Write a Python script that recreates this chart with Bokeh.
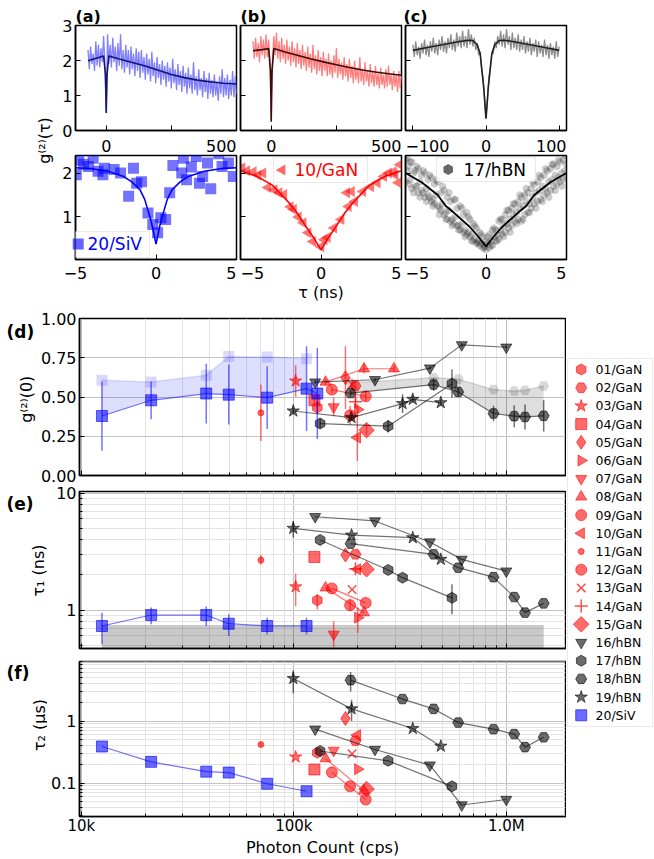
import numpy as np
from bokeh.plotting import figure
from bokeh.models import (Range1d, FixedTicker, Label, BoxAnnotation,
                          PrintfTickFormatter, CustomJSTickFormatter)
from bokeh.layouts import row, column
from bokeh.embed import file_html
from bokeh.resources import INLINE
from bokeh.core.properties import value

FONT = "DejaVu Sans"

# =====================================================================
# DATA
# =====================================================================
# (a)-(c) upper row: g2(tau) over long delays (tau in ns), binned
a_tau_first, a_tau_bin = -70, 5
a_g2 = [2.30, 1.75, 2.40, 1.90, 2.20, 1.70, 2.55, 1.85, 2.45, 1.80,
        2.35, 1.95, 2.70, 1.85, 0.55, 2.75, 1.90, 2.45, 1.80, 2.65,
        1.95, 2.40, 1.70, 2.50, 1.85, 2.75, 1.75, 2.30, 1.65, 2.45,
        1.80, 2.30, 1.60, 2.40, 1.75, 2.20, 1.55, 2.35, 1.70, 2.25,
        1.50, 2.30, 1.65, 2.10, 1.45, 2.20, 1.60, 2.05, 1.40, 2.25,
        1.55, 1.95, 1.35, 2.10, 1.50, 1.90, 1.30, 2.00, 1.45, 1.85,
        1.25, 1.95, 1.40, 1.80, 1.20, 2.05, 1.35, 1.75, 1.15, 1.90,
        1.30, 1.70, 1.10, 1.85, 1.25, 1.65, 1.05, 1.80, 1.20, 1.60,
        1.05, 1.95, 1.15, 1.55, 1.00, 1.75, 1.15, 1.50, 0.95, 1.70,
        1.10, 1.50, 0.90, 1.65, 1.05, 1.45, 0.95, 1.60, 1.00, 1.40,
        0.85, 1.55, 1.05, 1.75, 0.95, 1.50, 1.00, 1.60, 0.90, 1.45,
        1.00, 1.70, 0.95, 1.55, 1.05]
a_fit_tau = [-70, -35, -10, -3, -1, 0, 1, 3, 10, 50, 100, 150, 200, 250, 300, 350, 400, 450, 500]
a_fit_g2 = [1.99, 2.07, 2.13, 1.6, 0.9, 0.5, 0.9, 1.6, 2.13, 2.04, 1.94, 1.84, 1.72, 1.60, 1.51, 1.44, 1.39, 1.35, 1.33]

b_tau_first, b_tau_bin = -70, 5
b_g2 = [2.55, 2.05, 2.65, 2.10, 2.50, 1.95, 2.70, 2.15, 2.60, 2.05,
        2.75, 2.10, 2.60, 2.00, 0.30, 2.05, 2.70, 2.15, 2.80, 2.05,
        2.55, 1.95, 2.65, 2.05, 2.45, 1.90, 2.60, 2.00, 2.40, 1.85,
        2.55, 1.95, 2.35, 1.80, 2.50, 1.90, 2.30, 1.75, 2.45, 1.85,
        2.25, 1.70, 2.40, 1.80, 2.20, 1.65, 2.45, 1.75, 2.15, 1.60,
        2.30, 1.70, 2.10, 1.55, 2.25, 1.70, 2.05, 1.55, 2.20, 1.60,
        2.00, 1.50, 2.15, 1.65, 2.35, 1.50, 2.05, 1.60, 1.95, 1.45,
        2.10, 1.55, 1.90, 1.40, 2.05, 1.50, 1.85, 1.35, 2.00, 1.45,
        1.80, 1.35, 2.10, 1.40, 1.75, 1.30, 1.95, 1.40, 1.70, 1.25,
        1.90, 1.35, 1.70, 1.25, 1.85, 1.30, 1.65, 1.20, 1.80, 1.30,
        1.60, 1.20, 1.75, 1.25, 1.85, 1.30, 1.60, 1.15, 1.70, 1.25,
        1.60, 1.10, 1.70, 1.20, 1.55]
b_fit_tau = [-70, -35, -10, -3, -1, 0, 1, 3, 10, 50, 100, 150, 200, 250, 300, 350, 400, 450, 500]
b_fit_g2 = [2.28, 2.31, 2.34, 1.7, 0.9, 0.25, 0.9, 1.7, 2.34, 2.25, 2.15, 2.05, 1.96, 1.88, 1.80, 1.73, 1.67, 1.62, 1.58]

c_tau_first, c_tau_bin = -100, 2
c_g2 = [2.45, 2.10, 2.55, 2.15, 2.40, 2.05, 2.50, 2.20, 2.60, 2.15,
        2.45, 2.10, 2.55, 2.25, 2.65, 2.20, 2.50, 2.15, 2.60, 2.30,
        2.70, 2.25, 2.55, 2.20, 2.65, 2.35, 2.75, 2.30, 2.60, 2.25,
        2.80, 2.40, 2.70, 2.35, 2.85, 2.40, 2.70, 2.35, 2.90, 2.45,
        2.75, 2.40, 2.65, 2.30, 2.50, 2.15, 2.25, 1.75, 1.50, 0.95,
        0.40, 0.90, 1.55, 1.80, 2.20, 2.20, 2.55, 2.35, 2.70, 2.45,
        2.85, 2.40, 2.75, 2.35, 2.90, 2.45, 2.70, 2.30, 2.80, 2.35,
        2.65, 2.30, 2.75, 2.25, 2.60, 2.30, 2.70, 2.20, 2.55, 2.25,
        2.65, 2.15, 2.50, 2.25, 2.60, 2.10, 2.55, 2.20, 2.45, 2.10,
        2.60, 2.15, 2.45, 2.05, 2.50, 2.15, 2.40, 2.05, 2.55, 2.10,
        2.40]
c_fit_tau = [-100, -80, -60, -40, -25, -18, -12, -8, -5, -3, -2, -1, 0,
             1, 2, 3, 5, 8, 12, 18, 25, 40, 60, 80, 100]
c_fit_g2 = [2.29, 2.37, 2.45, 2.53, 2.58, 2.57, 2.45, 2.2, 1.6, 1.2, 0.9, 0.6, 0.34,
            0.6, 0.9, 1.2, 1.6, 2.2, 2.45, 2.57, 2.58, 2.53, 2.45, 2.37, 2.29]
top_tick_a = [0, 250, 500]
top_tick_c = [-100, 0, 100]

# lower row: short delays (tau in ns)
siv_tau = [-4.95, -4.8, -4.5, -4.2, -3.9, -3.6, -3.3, -3.2, -2.6, -2.2, -1.7, -1.4, -1.2, -0.9,
           -0.5, -0.2, 0.1, 0.3, 0.6, 0.85, 1.05, 1.6, 1.7, 1.9, 2.2, 2.5, 2.7, 2.9, 3.2, 3.4,
           3.9, 4.1, 4.5, 4.8]
siv_g2s = [1.96, 2.29, 2.2, 2.15, 2.34, 2.04, 1.96, 2.11, 2.08, 2.0, 1.47, 2.11, 1.77, 1.8,
           1.09, 0.83, 0.64, 0.98, 0.94, 1.55, 2.17, 2.0, 2.34, 1.85, 2.14, 2.38, 1.77, 1.92,
           2.23, 1.64, 2.44, 2.15, 2.23, 1.92]
siv_fit_tau = [-5, -4, -3, -2, -1.5, -1, -0.7, -0.5, -0.3, -0.15, 0, 0.15, 0.3, 0.5, 0.7, 1, 1.5, 2, 3, 4, 5]
siv_fit_g2 = [2.12, 2.10, 2.04, 1.92, 1.80, 1.62, 1.40, 1.15, 0.90, 0.65, 0.38, 0.65, 0.90, 1.15,
              1.40, 1.62, 1.80, 1.92, 2.04, 2.10, 2.12]

gan_tau = [-4.9, -4.2, -3.6, -3.3, -2.9, -2.3, -1.9, -1.7, -1.1, -0.8, -0.5, 0.0, 0.2, 0.4, 0.8,
           1.25, 1.7, 2.1, 1.6, 1.9, 2.6, 3.1, 3.5, 3.9, 4.2, 4.5, 4.8, 4.9, 4.6,
           -4.6, -3.9, -2.6, -1.4]
gan_g2s = [2.12, 2.03, 2.0, 1.67, 1.62, 1.51, 1.23, 1.17, 0.87, 0.64, 0.44, 0.32, 0.48, 0.53, 0.75,
           0.94, 1.24, 1.35, 1.55, 1.58, 1.58, 1.69, 1.78, 1.92, 2.0, 2.03, 1.78, 2.19, 1.96,
           2.05, 1.95, 1.55, 1.0]
gan_fit_tau = [-5, -4, -3, -2, -1.5, -1, -0.5, 0, 0.5, 1, 1.5, 2, 3, 4, 5]
gan_fit_g2 = [2.05, 1.93, 1.72, 1.33, 1.10, 0.82, 0.55, 0.25, 0.55, 0.82, 1.10, 1.33, 1.72, 1.93, 2.05]

hbn_tau_first, hbn_tau_bin = -5.0, 0.2
hbn_g2_a = [2.30, 2.15, 2.25, 2.05, 2.10, 1.95, 2.00, 1.85, 1.90, 1.75, 1.80, 1.55, 1.60, 1.45,
            1.35, 1.40, 1.20, 1.25, 1.05, 1.10, 0.95, 0.85, 0.75, 0.65, 0.55, 0.45, 0.60, 0.70,
            0.70, 0.90, 0.95, 1.05, 1.15, 1.20, 1.30, 1.35, 1.45, 1.50, 1.55, 1.65, 1.75, 1.80,
            1.90, 1.95, 2.05, 2.10, 2.20, 2.15, 2.25, 2.30, 2.20]
hbn_g2_b = [1.80, 1.75, 1.65, 1.70, 1.55, 1.60, 1.45, 1.50, 1.35, 1.30, 1.25, 1.15, 1.05, 0.95,
            0.90, 0.85, 0.80, 0.70, 0.65, 0.60, 0.55, 0.45, 0.40, 0.35, 0.30, 0.25, 0.30, 0.35,
            0.45, 0.50, 0.60, 0.65, 0.75, 0.80, 0.90, 0.95, 0.90, 1.05, 1.10, 1.20, 1.30, 1.35,
            1.40, 1.50, 1.55, 1.60, 1.70, 1.75, 1.80, 1.85, 1.90]
hbn_mid_first = -4.9
hbn_g2_c = [2.05, 1.85, 2.00, 1.70, 1.80, 1.55, 1.65, 1.45, 1.40, 1.50, 1.20, 1.30, 1.10, 1.15,
            0.95, 1.00, 0.80, 0.85, 0.70, 0.65, 0.60, 0.50, 0.45, 0.40, 0.35, 0.40, 0.45, 0.55,
            0.60, 0.70, 0.80, 0.85, 0.95, 1.05, 1.10, 1.20, 1.25, 1.35, 1.30, 1.45, 1.55, 1.60,
            1.70, 1.65, 1.80, 1.85, 1.95, 1.90, 2.00, 2.05]
hbn_g2_d = [2.35, 2.25, 1.55, 2.15, 1.45, 2.05, 1.35, 1.95, 1.25, 1.85, 1.05, 1.70, 0.95, 1.55,
            0.80, 1.40, 0.70, 1.20, 0.55, 1.00, 0.45, 0.80, 0.40, 0.60, 0.30, 0.55, 0.35, 0.75,
            0.45, 0.95, 0.55, 1.15, 0.65, 1.30, 0.85, 1.50, 0.95, 1.65, 1.10, 1.80, 1.20, 1.95,
            1.35, 2.10, 1.45, 2.20, 1.60, 2.30, 1.70, 2.40]
hbn_fit_tau = [-5, -4, -3, -2.5, -2, -1, -0.5, 0, 0.5, 1, 2, 2.5, 3, 4, 5]
hbn_fit_g2 = [2.0, 1.79, 1.5, 1.25, 1.1, 0.77, 0.56, 0.33, 0.56, 0.77, 1.1, 1.25, 1.5, 1.79, 2.0]

# (d)-(f): photon count (cps) vs g2(0), tau1 (ns), tau2 (us)
s01_x = [129e3];  s01_g2 = [0.433]; s01_g2e = [0.04]; s01_t1 = [1.21]; s01_t2 = [0.309]
s02_x = [195e3];  s02_g2 = [0.57];  s02_g2e = [0.03]; s02_t1 = [2.99]; s02_t2 = [0.483]
s03_x = [102e3];  s03_g2 = [0.602]; s03_g2e = [0.10]; s03_t1 = [1.58]; s03_t2 = [0.264]
s04_x = [125e3];  s04_g2 = [0.479]; s04_g2e = [0.03]; s04_t1 = [2.84]; s04_t2 = [0.166]
s05_x = [175e3];  s05_g2 = [0.623]; s05_g2e = [0.20]; s05_t1 = [2.95]; s05_t2 = [1.10]
s06_x = [200e3];  s06_g2 = [0.42];  s06_g2e = [0.03]; s06_t1 = [0.86]; s06_t2 = [0.168]
s07_x = [154e3];  s07_g2 = [0.437]; s07_g2e = [0.06]; s07_t1 = [0.62]; s07_t2 = [0.336]
s08_x = [141e3, 214e3, 296e3]; s08_g2 = [0.595, 0.68, 0.68]; s08_g2e = [0.02, 0.03, 0.02]
s08_t1 = [1.55, 0.95, None]; s08_t2 = [0.248, 0.0757, None]
s09_x = [151e3, 218e3]; s09_g2 = [0.547, 0.504]; s09_g2e = [0.02, 0.03]
s09_t1 = [1.53, 1.15]; s09_t2 = [0.149, 0.0545]
s10_x = [199e3];  s10_g2 = [0.242]; s10_g2e = [0.15]; s10_t1 = [2.23]; s10_t2 = [0.594]
s11_x = [70e3];   s11_g2 = [0.399]; s11_g2e = [0.18]; s11_t1 = [2.67]; s11_t2 = [0.418]
s12_x = [184e3];  s12_g2 = [0.384]; s12_g2e = [0.06]; s12_t1 = [1.10]; s12_t2 = [0.0887]
s13_x = [188e3];  s13_g2 = [0.58];  s13_g2e = [0.03]; s13_t1 = [1.50]; s13_t2 = [0.298]
s14_x = [195e3];  s14_g2 = [0.47];  s14_g2e = [0.04]; s14_t1 = [2.25]; s14_t2 = [None]
s15_x = [220e3];  s15_g2 = [0.289]; s15_g2e = [0.03]; s15_t1 = [2.23]; s15_t2 = [0.0804]
s16_x = [126e3, 241e3, 437e3, 617e3, 1.0e6]
s16_g2 = [0.595, 0.61, 0.684, 0.832, 0.817]; s16_g2e = [0.01, 0.01, 0.01, 0.01, 0.01]
s16_t1 = [6.27, 5.77, 3.81, 2.71, 2.15]; s16_t2 = [0.74, 0.348, 0.195, 0.0444, 0.0545]
s17_x = [133e3, 278e3, 325e3, 555e3]
s17_g2 = [0.331, 0.314, None, 0.585]; s17_g2e = [0.03, 0.04, None, 0.09]
s17_t1 = [3.97, 2.20, 1.89, 1.27]; s17_t2 = [0.329, 0.229, None, 0.0887]
s18_x = [185e3, 325e3, 455e3, 594e3, 871e3, 1.09e6, 1.225e6, 1.5e6]
s18_g2 = [0.525, None, 0.579, 0.532, 0.395, 0.378, 0.373, 0.380]
s18_g2e = [0.02, None, 0.04, 0.03, 0.05, 0.07, 0.08, 0.10]
s18_g2_hi = [0.59, None, 0.623, 0.614, 0.547, 0.538, 0.543, 0.570]
s18_t1 = [3.69, None, 2.99, 2.30, 1.91, 1.29, 0.95, 1.14]
s18_t2 = [4.56, 2.26, 1.57, 0.944, 0.74, 0.617, 0.38, 0.547]
s19_x = [99.4e3, 187e3, 325e3, 363e3, 492e3]
s19_g2 = [0.411, 0.369, 0.458, 0.485, 0.464]; s19_g2e = [0.02, 0.02, 0.06, 0.02, 0.02]
s19_t1 = [4.99, 4.37, None, 4.15, 2.71]; s19_t2 = [4.85, 1.57, None, 0.759, 0.394]
s20_x = [12.5e3, 21.3e3, 38.7e3, 49.4e3, 74.9e3, 114.8e3, 129e3]
s20_g2 = [0.379, 0.479, 0.522, 0.515, 0.496, 0.553, 0.522]
s20_g2e = [0.22, 0.12, 0.19, 0.19, 0.20, 0.27, 0.29]
s20_g2_hi = [0.606, 0.595, 0.638, 0.758, 0.754, 0.744, None]
s20_t1 = [0.73, 0.906, 0.906, 0.764, 0.73, 0.73, None]
s20_t2 = [0.389, 0.22, 0.153, 0.148, 0.0977, 0.0739, None]

# visible tau1 / tau2 error bars (low, high)
s01_t1_lo = [1.01]; s01_t1_hi = [1.36]
s03_t1_lo = [1.08]; s03_t1_hi = [2.04]
s06_t1_lo = [0.64]; s06_t1_hi = [1.05]
s07_t1_lo = [0.48]; s07_t1_hi = [0.80]
s11_t1_lo = [2.45]; s11_t1_hi = [2.95]
s12_t1_lo = [0.98]; s12_t1_hi = [1.25]
s17_t1_lo = [None, None, None, 0.92]; s17_t1_hi = [None, None, None, 1.66]
s19_t1_lo = [4.15, None, None, None, None]; s19_t1_hi = [5.77, None, None, None, None]
s20_t1_lo = [0.51, 0.755, 0.73, 0.60, 0.62, 0.62, None]
s20_t1_hi = [0.95, 1.05, 1.07, 0.92, 0.86, 0.86, None]
s18_t2_lo = [2.98, None, None, None, None, None, None, None]
s18_t2_hi = [6.17, None, None, None, None, None, None, None]
s19_t2_lo = [2.8, 1.0, None, None, None]; s19_t2_hi = [6.6, 2.2, None, None, None]
s11_t2_lo = [0.39]; s11_t2_hi = [0.45]

# tau1 instrument-limited floor shown as grey region in (e)
floor_x = [12.5e3, 1.5e6]
floor_tau1 = 0.745

SERIES = [
    ("01/GaN", s01_x, s01_g2, s01_g2e, s01_t1, s01_t2),
    ("02/GaN", s02_x, s02_g2, s02_g2e, s02_t1, s02_t2),
    ("03/GaN", s03_x, s03_g2, s03_g2e, s03_t1, s03_t2),
    ("04/GaN", s04_x, s04_g2, s04_g2e, s04_t1, s04_t2),
    ("05/GaN", s05_x, s05_g2, s05_g2e, s05_t1, s05_t2),
    ("06/GaN", s06_x, s06_g2, s06_g2e, s06_t1, s06_t2),
    ("07/GaN", s07_x, s07_g2, s07_g2e, s07_t1, s07_t2),
    ("08/GaN", s08_x, s08_g2, s08_g2e, s08_t1, s08_t2),
    ("09/GaN", s09_x, s09_g2, s09_g2e, s09_t1, s09_t2),
    ("10/GaN", s10_x, s10_g2, s10_g2e, s10_t1, s10_t2),
    ("11/GaN", s11_x, s11_g2, s11_g2e, s11_t1, s11_t2),
    ("12/GaN", s12_x, s12_g2, s12_g2e, s12_t1, s12_t2),
    ("13/GaN", s13_x, s13_g2, s13_g2e, s13_t1, s13_t2),
    ("14/GaN", s14_x, s14_g2, s14_g2e, s14_t1, s14_t2),
    ("15/GaN", s15_x, s15_g2, s15_g2e, s15_t1, s15_t2),
    ("16/hBN", s16_x, s16_g2, s16_g2e, s16_t1, s16_t2),
    ("17/hBN", s17_x, s17_g2, s17_g2e, s17_t1, s17_t2),
    ("18/hBN", s18_x, s18_g2, s18_g2e, s18_t1, s18_t2),
    ("19/hBN", s19_x, s19_g2, s19_g2e, s19_t1, s19_t2),
    ("20/SiV", s20_x, s20_g2, s20_g2e, s20_t1, s20_t2),
]
T1_ERR = {"01/GaN": (s01_t1_lo, s01_t1_hi), "03/GaN": (s03_t1_lo, s03_t1_hi),
          "06/GaN": (s06_t1_lo, s06_t1_hi), "07/GaN": (s07_t1_lo, s07_t1_hi),
          "11/GaN": (s11_t1_lo, s11_t1_hi), "12/GaN": (s12_t1_lo, s12_t1_hi),
          "17/hBN": (s17_t1_lo, s17_t1_hi), "19/hBN": (s19_t1_lo, s19_t1_hi),
          "20/SiV": (s20_t1_lo, s20_t1_hi)}
T2_ERR = {"18/hBN": (s18_t2_lo, s18_t2_hi), "19/hBN": (s19_t2_lo, s19_t2_hi),
          "11/GaN": (s11_t2_lo, s11_t2_hi)}

# =====================================================================
# STYLE
# =====================================================================
GROUP_COLOR = {"GaN": "#ff0000", "hBN": "#000000", "SiV": "#0000ff"}
MARK = {
    "01/GaN": ("hex", 30, 11), "02/GaN": ("hex", 0, 11), "03/GaN": ("star", 0, 13),
    "04/GaN": ("square", 0, 11), "05/GaN": ("diamond", 0, 14), "06/GaN": ("triangle", -90, 11),
    "07/GaN": ("inverted_triangle", 0, 11), "08/GaN": ("triangle", 0, 11),
    "09/GaN": ("circle", 0, 11), "10/GaN": ("triangle", 90, 11), "11/GaN": ("circle", 0, 6),
    "12/GaN": ("circle", 0, 11), "13/GaN": ("x", 0, 12), "14/GaN": ("cross", 0, 13),
    "15/GaN": ("square", 45, 11), "16/hBN": ("inverted_triangle", 0, 11),
    "17/hBN": ("hex", 30, 11), "18/hBN": ("hex", 0, 11), "19/hBN": ("star", 0, 13),
    "20/SiV": ("square", 0, 11),
}
MK_ALPHA = 0.58

BLANK = CustomJSTickFormatter(code="return '';")


def base_fig(w, h, xr, yr, mb, x_type="linear", y_type="linear", title=None):
    p = figure(width=w, height=h, x_range=Range1d(*xr), y_range=Range1d(*yr),
               x_axis_type=x_type, y_axis_type=y_type, title=title,
               toolbar_location=None, output_backend="svg",
               min_border_left=mb[0], min_border_right=mb[1],
               min_border_top=mb[2], min_border_bottom=mb[3])
    if title is not None:
        p.title.text_font = FONT
        p.title.text_font_size = "16px"
        p.title.text_font_style = "bold"
        p.title.text_color = "black"
        p.title.align = "left"
        p.title.standoff = 0
    p.outline_line_color = "black"
    p.outline_line_width = 1.5
    p.outline_line_alpha = 1.0
    p.background_fill_color = "white"
    p.border_fill_color = "white"
    p.xgrid.visible = False
    p.ygrid.visible = False
    for ax in p.axis:
        ax.axis_line_color = "black"
        ax.axis_line_width = 1.5
        ax.major_tick_in = 5
        ax.major_tick_out = 0
        ax.minor_tick_in = 0
        ax.minor_tick_out = 0
        ax.major_tick_line_color = "black"
        ax.minor_tick_line_color = "black"
        ax.major_label_text_font = FONT
        ax.major_label_text_font_size = "16px"
        ax.major_label_text_color = "black"
        ax.major_label_standoff = 3
        ax.axis_label_text_font = FONT
        ax.axis_label_text_font_size = "16px"
        ax.axis_label_text_font_style = "normal"
        ax.axis_label_text_color = "black"
    return p


def hide_labels(ax):
    ax.formatter = BLANK
    ax.major_label_text_font_size = "1px"
    ax.major_label_standoff = 0


def strip(w, h):
    s = figure(width=w, height=h, x_range=Range1d(0, w), y_range=Range1d(0, h), title=None,
               toolbar_location=None, output_backend="svg", min_border=0,
               x_axis_location=None, y_axis_location=None)
    s.outline_line_color = None
    s.xgrid.visible = False
    s.ygrid.visible = False
    s.background_fill_color = "white"
    s.border_fill_color = "white"
    return s


def put_text(s, x, y, txt, align="left", baseline="middle", size="16px", style="normal",
             angle=None, color="black"):
    kw = dict(text_align=align, text_baseline=baseline, text_font=value(FONT),
              text_font_size=value(size), text_color=color)
    if style != "normal":
        kw["text_font_style"] = style
    if angle is not None:
        kw["angle"] = angle
    s.text(x=[x], y=[y], text=[txt], **kw)


# =====================================================================
# TOP SECTION  (page pixels: rows 0-139, 139-153, 153-265, 265-304)
# =====================================================================
XR_A = (-118, 500)
XR_C = (-110, 110)
YR_TOP = (0, 3)
XR_S = (-5, 5)
YR_S = (0.03, 2.4)
FW, FH2 = 161, 104

A1 = base_fig(180, 139, XR_A, YR_TOP, (17, 2, 25, 9), title="(a)")
B1 = base_fig(165, 139, XR_A, YR_TOP, (2, 2, 25, 9), title="(b)")
C1 = base_fig(175, 139, XR_C, YR_TOP, (2, 12, 25, 9), title="(c)")
C1.title.offset = -2
A2 = base_fig(180, 112, XR_S, YR_S, (17, 2, 2, 6))
B2 = base_fig(165, 112, XR_S, YR_S, (2, 2, 2, 6))
C2 = base_fig(175, 112, XR_S, YR_S, (2, 12, 2, 6))

for p in (A1, B1):
    p.xaxis.ticker = FixedTicker(ticks=top_tick_a)
C1.xaxis.ticker = FixedTicker(ticks=top_tick_c)
for p in (A1, B1, C1):
    p.yaxis.ticker = FixedTicker(ticks=[0, 1, 2, 3])
for p in (A2, B2, C2):
    p.xaxis.ticker = FixedTicker(ticks=[-5, 0, 5])
    p.yaxis.ticker = FixedTicker(ticks=[0, 1, 2])
for p in (A1, B1, C1, A2, B2, C2):
    hide_labels(p.xaxis)
for p in (B1, C1, B2, C2):
    hide_labels(p.yaxis)

a_tau = a_tau_first + a_tau_bin * np.arange(len(a_g2))
b_tau = b_tau_first + b_tau_bin * np.arange(len(b_g2))
c_tau = c_tau_first + c_tau_bin * np.arange(len(c_g2))
A1.line(a_tau, a_g2, line_color="#7f7fff", line_width=1.3)
A1.line(a_fit_tau, a_fit_g2, line_color="#16166e", line_width=1.6)
B1.line(b_tau, b_g2, line_color="#ff7f7f", line_width=1.3)
B1.line(b_fit_tau, b_fit_g2, line_color="#3a0c0c", line_width=1.6)
C1.line(c_tau, c_g2, line_color="#8c8c8c", line_width=1.3)
C1.line(c_fit_tau, c_fit_g2, line_color="#202020", line_width=1.6)

A2.scatter(siv_tau, siv_g2s, marker="square", size=11, fill_color="#0000ff",
           fill_alpha=0.55, line_alpha=0)
A2.line(siv_fit_tau, siv_fit_g2, line_color="#0000ff", line_width=1.6)
B2.scatter(gan_tau, gan_g2s, marker="triangle", angle=np.pi / 2, size=11,
           fill_color="#ff0000", fill_alpha=0.55, line_alpha=0)
B2.line(gan_fit_tau, gan_fit_g2, line_color="#ff0000", line_width=1.6)
hbn_tau_a = hbn_tau_first + hbn_tau_bin * np.arange(len(hbn_g2_a))
hbn_tau_c = hbn_mid_first + hbn_tau_bin * np.arange(len(hbn_g2_c))
for tx, gy in ((hbn_tau_a, hbn_g2_a), (hbn_tau_a, hbn_g2_b), (hbn_tau_c, hbn_g2_c),
               (hbn_tau_c, hbn_g2_d)):
    C2.scatter(tx, gy, marker="hex", angle=np.pi / 6, size=8, fill_color="#000000",
               fill_alpha=0.2, line_alpha=0)
C2.line(hbn_fit_tau, hbn_fit_g2, line_color="#000000", line_width=1.8)


def inplot_legend(p, xr, yr, box, mk, txt, marker, ang, color, text, tcolor):
    X = lambda px: xr[0] + px * (xr[1] - xr[0]) / FW
    Y = lambda py: yr[0] + py * (yr[1] - yr[0]) / FH2
    p.add_layout(BoxAnnotation(left=X(box[0]), right=X(box[1]), bottom=Y(box[2]), top=Y(box[3]),
                               fill_color="white", fill_alpha=0.85, line_color="#b5b5b5",
                               line_width=1))
    p.scatter([X(mk[0])], [Y(mk[1])], marker=marker, angle=ang, size=11, fill_color=color,
              fill_alpha=0.6, line_alpha=0, level="overlay")
    p.add_layout(Label(x=X(txt[0]), y=Y(txt[1]), text=text, text_baseline="middle",
                       text_align="left", text_font=FONT, text_font_size="17px",
                       text_color=tcolor))


inplot_legend(A2, XR_S, YR_S, (-4, 74, 2, 28), (2.7, 15.5), (12, 15.5), "square", 0,
              "#0000ff", "20/SiV", "#0000ff")
inplot_legend(B2, XR_S, YR_S, (33, 127, 77, 102), (41.7, 89.5), (54, 89.5), "triangle",
              np.pi / 2, "#ff0000", "10/GaN", "#ff0000")
inplot_legend(C2, XR_S, YR_S, (31, 130, 78, 102), (42.7, 90), (58, 90), "hex", np.pi / 6,
              "#000000", "17/hBN", "#000000")

# tick-label strips under the two rows of small panels
PANEL_LEFT = [17, 182, 347]          # frame left of each panel inside the 520-px strips


def xpx(i, xr, v):
    return PANEL_LEFT[i] + (v - xr[0]) / (xr[1] - xr[0]) * FW


S1 = strip(520, 14)
for i, xr in enumerate((XR_A, XR_A)):
    put_text(S1, xpx(i, xr, top_tick_a[0]), 7.5, str(top_tick_a[0]), "center")
    put_text(S1, xpx(i, xr, xr[1]), 7.5, str(top_tick_a[-1]), "right")
put_text(S1, xpx(2, XR_C, XR_C[0]), 7.5, "\u2212" + str(abs(top_tick_c[0])), "left")
put_text(S1, xpx(2, XR_C, top_tick_c[1]), 7.5, str(top_tick_c[1]), "center")
put_text(S1, xpx(2, XR_C, XR_C[1]), 7.5, str(top_tick_c[2]), "right")

S2 = strip(520, 39)
for i in range(3):
    put_text(S2, xpx(i, XR_S, -5), 32, "\u22125", "center" if i == 0 else "left")
    put_text(S2, xpx(i, XR_S, 0), 32, "0", "center")
    put_text(S2, xpx(i, XR_S, 5), 32, "5", "right")
put_text(S2, xpx(1, XR_S, 0), 12, "\u03c4 (ns)", "center")

YL = strip(58, 304)
put_text(YL, 44, 164, "g\u207d\u00b2\u207e(\u03c4)", "center", "middle", angle=np.pi / 2)

# =====================================================================
# BOTTOM SECTION  (page pixels 304-859)
# =====================================================================
XR_MAIN = (9.8e3, 1.9e6)
XMAJ = [1e4, 1e5, 1e6]
XMIN = [m * 10.0 ** k for k in (4, 5, 6) for m in range(2, 10) if m * 10.0 ** k < 1.9e6]


def main_fig(w, h, mbl, yr, y_type, mbt, mbb, yt, ymin, yfmt, show_x):
    p = base_fig(w, h, XR_MAIN, yr, (mbl, 1, mbt, mbb), x_type="log", y_type=y_type)
    xt = FixedTicker(ticks=XMAJ, minor_ticks=XMIN)
    p.xaxis.ticker = xt
    p.xgrid.ticker = xt
    yt_ = FixedTicker(ticks=yt, minor_ticks=ymin)
    p.yaxis.ticker = yt_
    p.ygrid.ticker = yt_
    p.xgrid.visible = True
    p.ygrid.visible = True
    p.xgrid.grid_line_color = "#bdbdbd"
    p.xgrid.minor_grid_line_color = "#e3e3e3"
    p.ygrid.grid_line_color = "#c4c4c4"
    p.ygrid.minor_grid_line_color = "#e3e3e3" if ymin else None
    for ax in p.axis:
        ax.minor_tick_in = 3
    p.yaxis.formatter = yfmt
    if show_x:
        p.xaxis.formatter = CustomJSTickFormatter(
            code="return tick >= 1e6 ? (tick/1e6).toFixed(1) + 'M' : (tick/1e3).toFixed(0) + 'k';")
        p.xaxis.axis_label = "Photon Count (cps)"
        p.xaxis.major_label_text_font_size = "15px"
        p.xaxis.major_label_standoff = 0
        p.xaxis.axis_label_standoff = 0
    else:
        hide_labels(p.xaxis)
    return p


D = main_fig(530, 180, 43, (0, 1.0), "linear", 14, 9, [0, 0.25, 0.5, 0.75, 1.0], [],
             PrintfTickFormatter(format="%.2f"), False)
E = main_fig(519, 170, 32, (0.469, 10.3), "log", 7, 6, [1, 10],
             [0.5, 0.6, 0.7, 0.8, 0.9] + list(range(2, 10)),
             PrintfTickFormatter(format="%g"), False)
F = main_fig(519, 205, 32, (0.029, 9.1), "log", 7, 0, [0.1, 1],
             [0.03, 0.04, 0.05, 0.06, 0.07, 0.08, 0.09, 0.2, 0.3, 0.4, 0.5, 0.6, 0.7, 0.8, 0.9]
             + list(range(2, 10)),
             PrintfTickFormatter(format="%g"), True)

LSD = strip(36, 180)
put_text(LSD, 6, 165, "(d)", "left", "middle", size="17px", style="bold")
put_text(LSD, 26, 87.5, "g\u207d\u00b2\u207e(0)", "center", "middle", angle=np.pi / 2)
LSE = strip(47, 170)
put_text(LSE, 6, 156, "(e)", "left", "middle", size="17px", style="bold")
put_text(LSE, 38, 84.5, "\u03c4\u2081 (ns)", "center", "middle", angle=np.pi / 2)
LSF = strip(47, 205)
put_text(LSF, 6, 190, "(f)", "left", "middle", size="17px", style="bold")
put_text(LSF, 39, 121, "\u03c4\u2082 (\u03bcs)", "center", "middle", angle=np.pi / 2)

# bands in (d)
for xs_, lo_, hi_, col, mk, ang in ((s20_x, s20_g2, s20_g2_hi, "#0000ff", "square", 0),
                                    (s18_x, s18_g2, s18_g2_hi, "#000000", "hex", 0)):
    keep = [i for i in range(len(xs_)) if hi_[i] is not None and lo_[i] is not None]
    bx = [xs_[i] for i in keep]
    blo = [lo_[i] for i in keep]
    bhi = [hi_[i] for i in keep]
    D.varea(x=bx, y1=blo, y2=bhi, fill_color=col, fill_alpha=0.13)
    D.line(bx, bhi, line_color=col, line_alpha=0.12, line_width=1.5)
    D.scatter(bx, bhi, marker=mk, angle=np.deg2rad(ang), size=11, fill_color=col,
              fill_alpha=0.15, line_alpha=0)

# floor in (e)
E.varea(x=floor_x, y1=[0.01, 0.01], y2=[floor_tau1, floor_tau1], fill_color="#000000",
        fill_alpha=0.21)


def draw(p, name, x, y, lo, hi):
    grp = name.split("/")[1]
    col = GROUP_COLOR[grp]
    mk, ang, sz = MARK[name]
    keep = [i for i, v in enumerate(y) if v is not None]
    xs = [x[i] for i in keep]
    ys = [y[i] for i in keep]
    if not xs:
        return
    if len(xs) > 1:
        p.line(xs, ys, line_color=col, line_alpha=0.55, line_width=1.2)
    if lo is not None:
        k2 = [i for i in keep if lo[i] is not None]
        if k2:
            ex = [x[i] for i in k2]
            p.segment(ex, [lo[i] for i in k2], ex, [hi[i] for i in k2],
                      line_color=col, line_alpha=0.55, line_width=1.5)
    line_only = mk in ("x", "cross")
    p.scatter(xs, ys, marker=mk, angle=np.deg2rad(ang), size=sz, fill_color=col,
              fill_alpha=0.0 if line_only else MK_ALPHA, line_color=col,
              line_alpha=0.7 if line_only else MK_ALPHA, line_width=1.5 if line_only else 1)


for name, x, g2, g2e, t1, t2 in SERIES:
    lo = [None if (v is None or e is None) else v - e for v, e in zip(g2, g2e)]
    hi = [None if (v is None or e is None) else v + e for v, e in zip(g2, g2e)]
    draw(D, name, x, g2, lo, hi)
    e1 = T1_ERR.get(name, (None, None))
    draw(E, name, x, t1, e1[0], e1[1])
    e2 = T2_ERR.get(name, (None, None))
    draw(F, name, x, t2, e2[0], e2[1])

# legend column
LG = strip(88, 555)
LG.add_layout(BoxAnnotation(left=1, right=86, bottom=133, top=501, fill_color="white",
                            fill_alpha=1.0, line_color="#bbbbbb", line_width=1, level="underlay"))
names = [s[0] for s in SERIES]
rows_y = [490 - 18.2 * i for i in range(len(names))]
for nm, yy in zip(names, rows_y):
    grp = nm.split("/")[1]
    col = GROUP_COLOR[grp]
    mk, ang, sz = MARK[nm]
    line_only = mk in ("x", "cross")
    LG.scatter([14.7], [yy], marker=mk, angle=np.deg2rad(ang), size=sz, fill_color=col,
               fill_alpha=0.0 if line_only else MK_ALPHA, line_color=col,
               line_alpha=0.7 if line_only else MK_ALPHA, line_width=1.5 if line_only else 1)
LG.text(x=[29] * len(names), y=rows_y, text=names, text_font=value(FONT),
        text_font_size=value("12.5px"), text_baseline="middle", text_align="left",
        text_color="black")

top = row(YL, column(row(A1, B1, C1), S1, row(A2, B2, C2), S2))
bottom = row(column(row(LSD, D), row(LSE, E), row(LSF, F)), LG)
layout = column(top, bottom)

open("out.html", "w").write(file_html(layout, INLINE))
